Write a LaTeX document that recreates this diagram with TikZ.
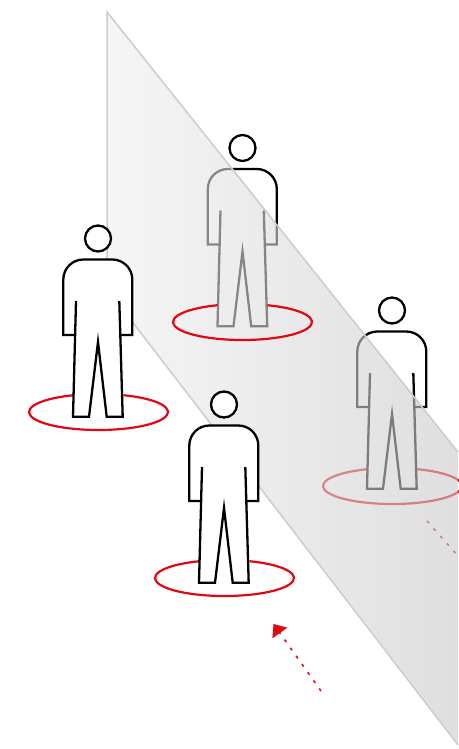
\documentclass[tikz,border=0pt]{standalone}
\usepackage{tikz}
\usetikzlibrary{arrows.meta}
\definecolor{ringred}{HTML}{E30613}

\begin{document}
\begin{tikzpicture}[
        x=1pt, y=-1pt,
        outline/.style={draw=black, line width=2.3pt},
        ring/.style={draw=ringred, line width=2.2pt},
        wall/.style={left color=black!6.5, right color=black!21, opacity=0.6},
        walledge/.style={draw=black!20, line width=1.5pt},
        sightline/.style={draw=ringred, line width=1.6pt, dash pattern=on 3pt off 7pt},
        % the part of the ring behind the legs stays open
        floorring/.pic={
            \draw[ring] (69:69.5pt and 18pt) arc [start angle=69, end angle=-249, x radius=69.5pt, y radius=18pt];
        },
        person/.pic={
            \fill[white] (-25,4.7) -- (-9,4.7) -- (0,-70) -- (8.7,4.7) -- (24.7,4.7) -- (23,-77) -- (34.3,-77)
                -- (34.3,-132.5) arc [start angle=0, end angle=90, radius=20pt]
                -- (-14.7,-152.5) arc [start angle=90, end angle=180, radius=20pt]
                -- (-34.7,-77) -- (-23.5,-77) -- cycle;
            \draw[outline, fill=white] (0,-173.5) circle (13pt);
            \draw[outline] (-23.5,-77) -- (-34.7,-77) -- (-34.7,-132.5) arc [start angle=180, end angle=90, radius=20pt]
                -- (14.3,-152.5) arc [start angle=90, end angle=0, radius=20pt] -- (34.3,-77) -- (22.8,-77);
            \draw[outline] (-22,-111) -- (-25,4.7) -- (-9,4.7) -- (0,-70) -- (8.7,4.7) -- (24.7,4.7) -- (21.3,-111);
        }
    ]
        \useasboundingbox (0,0) rectangle (458,749);

        % People behind the wall
        \pic at (242.5,321.5) {person};
        \pic at (392.5,486) {floorring};
        \pic at (392,484) {person};

        % Line seen through the wall
        \coordinate (farstart) at (427,521);
        \coordinate (farend) at (458,556);
        \draw[sightline] (farstart) -- (farend);

        % Wall
        \coordinate (walltop) at (107,12);
        \coordinate (wallright) at (458,452);
        \coordinate (wallcorner) at (458,745);
        \coordinate (wallbase) at (107,289);
        \shade[wall] (walltop) -- (wallright) -- (wallcorner) -- (wallbase) -- cycle;
        \draw[walledge] (wallright) -- (walltop) -- (wallbase) -- (wallcorner);

        % Ring in front of the wall
        \pic at (242.5,322) {floorring};

        % People in front of the wall
        \pic at (98.5,412) {floorring};
        \pic at (98,412) {person};
        \pic at (224.5,578) {floorring};
        \pic at (224,578) {person};

        % Viewing direction
        \coordinate (viewstart) at (321,691);
        \coordinate (viewend) at (273.5,624);
        \draw[sightline, -{Triangle[length=11pt, width=18pt, color=ringred]}] (viewstart) -- (viewend);
    \end{tikzpicture}
\end{document}
